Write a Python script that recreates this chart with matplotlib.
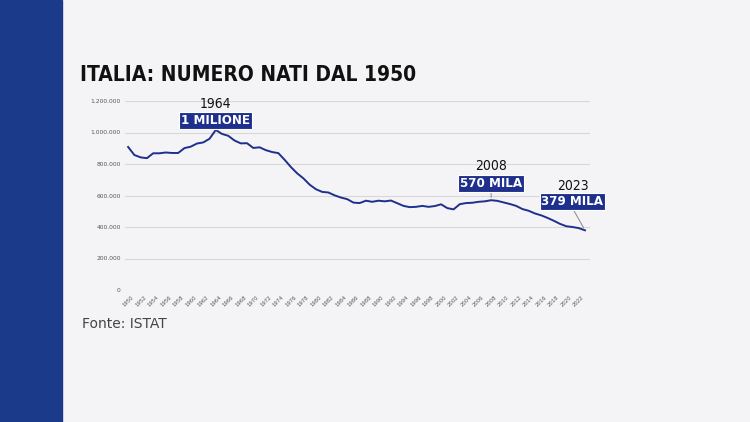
import matplotlib
matplotlib.use("Agg")
import matplotlib.pyplot as plt
from matplotlib.patches import Rectangle

years = list(range(1950, 2024))
births = [908, 857, 842, 837, 868, 868, 873, 870, 870, 901, 910, 930, 937, 960, 1016,
          991, 979, 949, 931, 932, 902, 906, 888, 876, 869, 827, 781, 741, 709, 669,
          640, 623, 619, 601, 587, 577, 555, 552, 567, 560, 567, 563, 568, 551, 534,
          526, 528, 534, 528, 533, 544, 520, 512, 545, 552, 554, 560, 563, 570, 566,
          556, 546, 534, 514, 503, 486, 474, 458, 440, 420, 405, 400, 393, 379]
births = [b * 1000 for b in births]
yticks = [0, 200000, 400000, 600000, 800000, 1000000, 1200000]
ytick_labels = ["0", "200.000", "400.000", "600.000", "800.000", "1.000.000", "1.200.000"]
xticks = list(range(1950, 2024, 2))
annotations = [(1964, 1016000, "1964", "1 MILIONE"), (2008, 570000, "2008", "570 MILA"),
               (2023, 379000, "2023", "379 MILA")]

NAVY = "#1f2f8c"
COND = dict(family="DejaVu Sans", stretch="condensed")

fig = plt.figure(figsize=(7.5, 4.22), dpi=100)
fig.patch.set_facecolor("#f4f4f6")
fig.add_artist(Rectangle((0, 0), 62/750, 1, transform=fig.transFigure, color="#1b3a8a", zorder=0))

fig.text(80/750, 1 - 75/422, "ITALIA: NUMERO NATI DAL 1950", fontsize=15, fontweight="bold",
         va="center", ha="left", color="#111111", **COND)
fig.text(82/750, 1 - 324/422, "Fonte: ISTAT", fontsize=10, color="#444444", va="center")

ax = fig.add_axes([125/750, 1 - 290/422, 465/750, 189/422])
ax.set_facecolor("none")
ax.plot(years, births, color=NAVY, lw=1.4)
ax.set_xlim(1949.5, 2023.8)
ax.set_ylim(0, 1200000)
ax.set_yticks(yticks)
ax.set_yticklabels(ytick_labels, fontsize=4.3, color="#555555")
ax.set_xticks(xticks)
ax.set_xticklabels([str(x) for x in xticks], fontsize=3.8, rotation=45, color="#555555")
ax.tick_params(length=0, pad=3)
ax.grid(axis="y", color="#d8d8d8", lw=0.8)
for s in ax.spines.values():
    s.set_visible(False)

# (box dx, box dy, year dy) in points
offsets = {1964: (0, 7, 19), 2008: (0, 12, 25), 2023: (-9, 21, 32)}
for yr, val, ylab, vlab in annotations:
    dx, dy, ty = offsets[yr]
    if yr != 1964:
        ax.annotate("", (yr, val), xytext=(dx, dy - 5), textcoords="offset points",
                    arrowprops=dict(arrowstyle="-", color="#888888", lw=0.7))
    ax.annotate(vlab, (yr, val), xytext=(dx, dy), textcoords="offset points", ha="center",
                va="center", fontsize=9.5, fontweight="bold", color="white",
                bbox=dict(boxstyle="square,pad=0.15", fc=NAVY, ec="white", lw=0.8), **COND)
    ax.annotate(ylab, (yr, val), xytext=(dx, ty), textcoords="offset points", ha="center",
                va="center", fontsize=10, color="#111111", **COND)

fig.savefig("out.png", dpi=100, facecolor=fig.get_facecolor())
